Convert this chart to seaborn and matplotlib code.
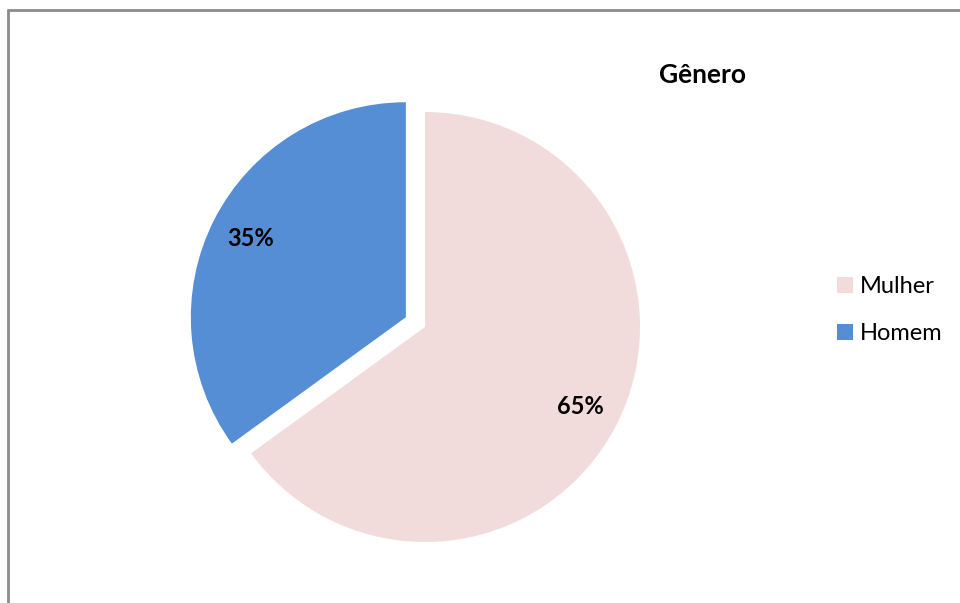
import matplotlib
matplotlib.use("Agg")
import matplotlib.pyplot as plt
import seaborn as sns
from matplotlib.lines import Line2D
from matplotlib.patches import Patch

categories = ["Mulher", "Homem"]
values = [65, 35]
title = "Gênero"

sns.set_style("white")
plt.rcParams["font.family"] = ["Lato", "DejaVu Sans"]
plt.rcParams["text.color"] = "black"

colors = ["#F2DCDB", "#558ED5"]

fig = plt.figure(figsize=(9.6, 6.03), dpi=100)
ax = fig.add_axes([0, 0, 1, 1])

radius = 215
wedges, texts, autotexts = ax.pie(
    values,
    colors=colors,
    startangle=90,
    counterclock=False,
    explode=[0, 0.1 * radius],
    center=(425, 603 - 327),
    radius=radius,
    autopct="%1.0f%%",
    pctdistance=0.81,
    frame=True,
    wedgeprops={"linewidth": 0},
    textprops={"fontsize": 17, "fontweight": "bold", "color": "black"},
)
ax.set_xlim(0, 960)
ax.set_ylim(0, 603)
ax.set_aspect("equal")
ax.axis("off")

fig.text(703 / 960, 1 - 75 / 603, title, ha="center", va="center",
         fontsize=19, fontweight="bold", color="black")

handles = [Patch(facecolor=c, edgecolor="none", label=l) for c, l in zip(colors, categories)]
fig.legend(handles=handles, loc="center left", bbox_to_anchor=(837 / 960, 1 - 310 / 603),
           frameon=False, fontsize=17, handlelength=0.68, handleheight=0.68,
           handletextpad=0.3, labelspacing=1.1, borderaxespad=0, borderpad=0,
           labelcolor="black")

# chart area border (top and left only are visible in the reference)
fig.add_artist(Line2D([8 / 960, 8 / 960], [0, 1 - 10 / 603], transform=fig.transFigure,
                      color="#8c8c8c", linewidth=2))
fig.add_artist(Line2D([8 / 960, 1], [1 - 10 / 603, 1 - 10 / 603], transform=fig.transFigure,
                      color="#8c8c8c", linewidth=2))

fig.savefig("out.png", dpi=100, facecolor="white")
